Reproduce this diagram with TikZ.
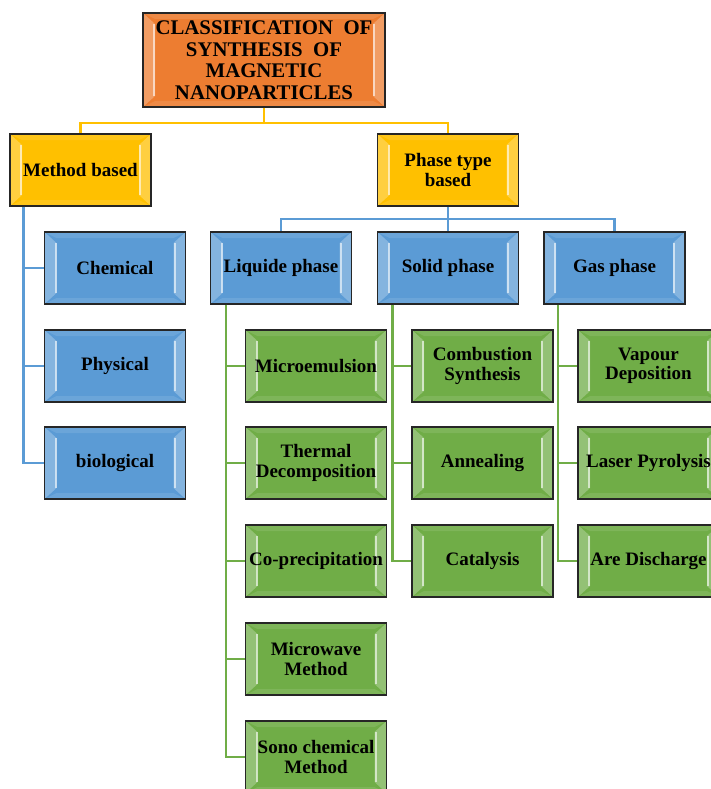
\documentclass[tikz,border=0pt]{standalone}
\usepackage{fontspec}
\setmainfont{Liberation Serif}
\usetikzlibrary{positioning}
\definecolor{TitleColor}{RGB}{237,125,49}
\definecolor{GroupColor}{RGB}{255,192,0}
\definecolor{PhaseColor}{RGB}{91,155,213}
\definecolor{MethodColor}{RGB}{112,173,71}
\tikzset{
  bevel/.style={path picture={
    \fill[white, opacity=0.25] (path picture bounding box.north west)
      -- ([xshift=12pt,yshift=-11pt]path picture bounding box.north west)
      -- ([xshift=12pt,yshift=11pt]path picture bounding box.south west)
      -- (path picture bounding box.south west) -- cycle;
    \fill[white, opacity=0.25] (path picture bounding box.north east)
      -- ([xshift=-12pt,yshift=-11pt]path picture bounding box.north east)
      -- ([xshift=-12pt,yshift=11pt]path picture bounding box.south east)
      -- (path picture bounding box.south east) -- cycle;
    \draw[white, opacity=0.6, line width=2pt]
      ([xshift=11pt,yshift=-11pt]path picture bounding box.north west)
      -- ([xshift=11pt,yshift=11pt]path picture bounding box.south west);
    \draw[white, opacity=0.6, line width=2pt]
      ([xshift=-11pt,yshift=-11pt]path picture bounding box.north east)
      -- ([xshift=-11pt,yshift=11pt]path picture bounding box.south east);
    \fill[white, opacity=0.1] (path picture bounding box.north west)
      -- ([xshift=12pt,yshift=-6pt]path picture bounding box.north west)
      -- ([xshift=-12pt,yshift=-6pt]path picture bounding box.north east)
      -- (path picture bounding box.north east) -- cycle;
    \fill[white, opacity=0.1] (path picture bounding box.south west)
      -- ([xshift=12pt,yshift=6pt]path picture bounding box.south west)
      -- ([xshift=-12pt,yshift=6pt]path picture bounding box.south east)
      -- (path picture bounding box.south east) -- cycle;
  }},
  catbox/.style={draw=black!85, line width=1.6pt, bevel, minimum width=141pt,
    minimum height=72pt, inner sep=1pt, align=center,
    font=\fontsize{19}{19.5}\selectfont\bfseries},
  titlebox/.style={catbox, fill=TitleColor, minimum width=242pt, minimum height=94pt,
    font=\fontsize{20.8}{21.5}\selectfont\bfseries},
  groupbox/.style={catbox, fill=GroupColor},
  phasebox/.style={catbox, fill=PhaseColor},
  methodbox/.style={catbox, fill=MethodColor},
  grouplink/.style={draw=GroupColor, line width=2.5pt},
  phaselink/.style={draw=PhaseColor, line width=2.5pt},
  methodlink/.style={draw=MethodColor, line width=2.5pt},
}

\begin{document}
\begin{tikzpicture}[x=1pt, y=-1pt]
    \useasboundingbox (0,0) rectangle (710,789);
    \node[titlebox] (title) at (264,60) {CLASSIFICATION~~OF\\SYNTHESIS~~OF\\MAGNETIC\\NANOPARTICLES};
    \node[groupbox] (method) at (80.5,170) {Method based};
    \node[groupbox] (phase) at (448,170) {Phase type\\based};
    \draw[grouplink] (title.south) -- ++(0,15) -| (method.north);
    \draw[grouplink] (title.south) -- ++(0,15) -| (phase.north);

    % method based
    \foreach \nm/\yy/\txt in {chem/268/Chemical, phys/366/Physical, bio/463/biological} {
      \node[phasebox] (\nm) at (115,\yy) {\txt};
      \draw[phaselink] (method.south west) ++(14.5,0) |- (\nm.west);
    }

    % phase type based
    \foreach \nm/\xx/\txt in {liquid/281/Liquide phase, solid/448/Solid phase, gas/614.5/Gas phase} {
      \node[phasebox] (\nm) at (\xx,268) {\txt};
      \draw[phaselink] (phase.south) -- ++(0,12) -| (\nm.north);
    }

    \foreach \nm/\yy/\txt in {micro/366/Microemulsion, thermal/463/Thermal\\Decomposition,
        copre/561/Co-precipitation, mwave/659/Microwave\\Method, sono/757/Sono chemical\\Method} {
      \node[methodbox] (\nm) at (316,\yy) {\txt};
      \draw[methodlink] (liquid.south west) ++(16.5,0) |- (\nm.west);
    }
    \foreach \nm/\yy/\txt in {comb/366/Combustion\\Synthesis, anneal/463/Annealing, cata/561/Catalysis} {
      \node[methodbox] (\nm) at (482.5,\yy) {\txt};
      \draw[methodlink] (solid.south west) ++(16,0) |- (\nm.west);
    }
    \foreach \nm/\yy/\txt in {vapour/366/Vapour\\Deposition, laser/463/Laser Pyrolysis, arc/561/Are Discharge} {
      \node[methodbox] (\nm) at (648.5,\yy) {\txt};
      \draw[methodlink] (gas.south west) ++(15,0) |- (\nm.west);
    }
  \end{tikzpicture}
\end{document}
